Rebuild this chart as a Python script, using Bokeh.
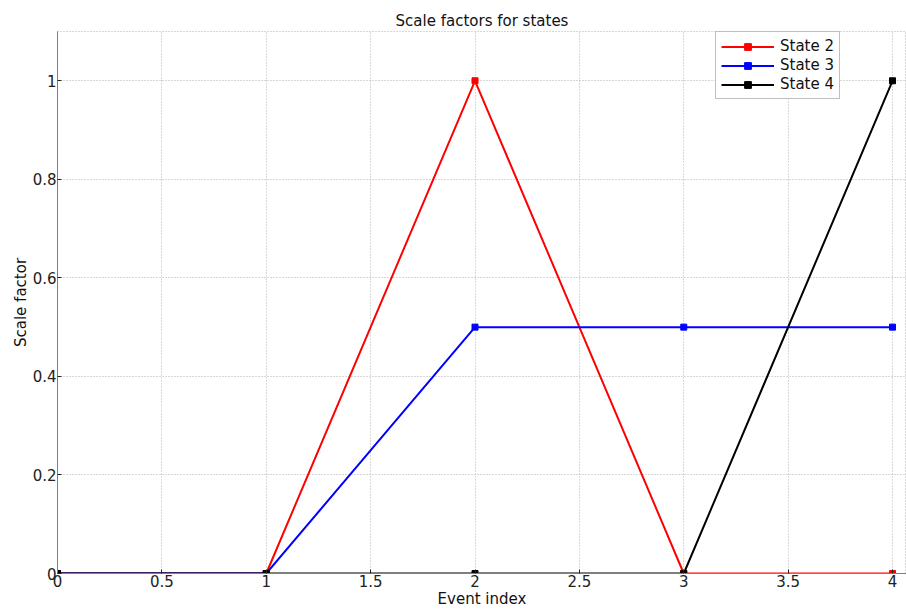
from bokeh.plotting import figure
from bokeh.models import Range1d, Legend, LegendItem, FixedTicker, CustomJSTickFormatter
from bokeh.embed import file_html
from bokeh.resources import INLINE

event_index = [0, 1, 2, 3, 4]
state2 = [0, 0, 1, 0, 0]
state3 = [0, 0, 0.5, 0.5, 0.5]
state4 = [0, 0, 0, 0, 1]
x_ticks = [0, 0.5, 1, 1.5, 2, 2.5, 3, 3.5, 4]
y_ticks = [0, 0.2, 0.4, 0.6, 0.8, 1]

FONT = "DejaVu Sans"

p = figure(width=906, height=611, output_backend="svg", toolbar_location=None,
           x_range=Range1d(0, 4.067), y_range=Range1d(0, 1.1),
           title="Scale factors for states",
           min_border_left=57, min_border_right=0, min_border_top=31, min_border_bottom=38)

p.title.align = "center"
p.title.text_font = FONT
p.title.text_font_size = "15px"
p.title.text_font_style = "normal"
p.title.text_color = "#111111"
p.title.standoff = 4

fmt = CustomJSTickFormatter(code="return (Math.round(tick*10)/10).toString();")
for ax in (p.xaxis[0], p.yaxis[0]):
    ax.formatter = fmt
    ax.major_label_text_font = FONT
    ax.major_label_text_font_size = "15px"
    ax.major_label_text_color = "#222222"
    ax.axis_label_text_font = FONT
    ax.axis_label_text_font_size = "15px"
    ax.axis_label_text_font_style = "normal"
    ax.axis_label_text_color = "#111111"
    ax.major_tick_in = 4
    ax.major_tick_out = 0
    ax.minor_tick_in = 0
    ax.minor_tick_out = 0
    ax.axis_line_color = "#808080"
    ax.major_tick_line_color = "#222222"
    ax.major_label_standoff = 1
    ax.axis_label_standoff = 0

p.xaxis[0].ticker = FixedTicker(ticks=x_ticks)
p.yaxis[0].ticker = FixedTicker(ticks=y_ticks)
p.xaxis.axis_label = "Event index"
p.yaxis.axis_label = "Scale factor"

p.grid.grid_line_color = "#b0b0b0"
p.grid.grid_line_dash = "1 2"
p.grid.grid_line_width = 1
p.outline_line_color = "#b0b0b0"
p.outline_line_dash = "1 2"

series = [("State 2", state2, "#ff0000"), ("State 3", state3, "#0000ff"), ("State 4", state4, "#000000")]
items = []
for name, ys, col in series:
    r1 = p.line(event_index, ys, line_color=col, line_width=2)
    r2 = p.scatter(event_index, ys, marker="square", size=6, fill_color=col, line_color=col)
    items.append(LegendItem(label=name, renderers=[r1, r2]))

legend = Legend(items=items, location=(658, 474), margin=0, padding=5, spacing=1,
                glyph_width=53, glyph_height=17, label_height=17,
                label_text_font=FONT, label_text_font_size="15px", label_standoff=6,
                label_text_color="#111111",
                border_line_color="#808080", border_line_width=1,
                background_fill_alpha=1)
p.add_layout(legend)

open("out.html", "w").write(file_html(p, INLINE))
